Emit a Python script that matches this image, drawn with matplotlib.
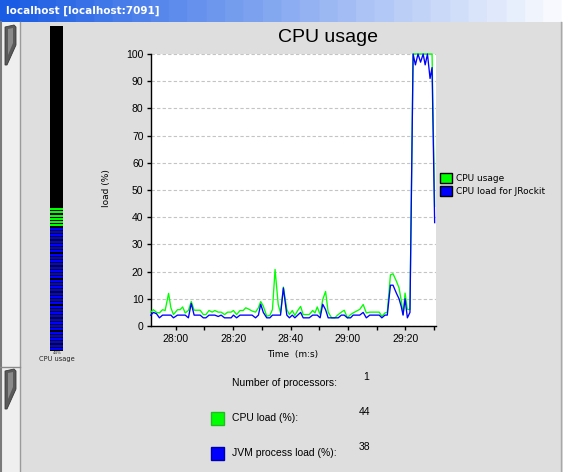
import matplotlib
matplotlib.use("Agg")
import matplotlib.pyplot as plt
import numpy as np
from matplotlib.patches import Rectangle, Polygon, Patch
from matplotlib.ticker import MultipleLocator, FuncFormatter
from matplotlib.colors import LinearSegmentedColormap

# seconds relative to 28:00
BASE = 28 * 60
times = [-8.7, -7.8, -6.7, -5.7, -4.6, -3.7, -2.5, -1.7, -0.8, 0.6,
         1.5, 2.4, 3.3, 4.4, 5.4, 6.4, 7.6, 8.5, 9.6, 10.5,
         11.6, 12.7, 13.6, 14.8, 15.8, 17.0, 18.1, 19.3, 20.1, 21.2,
         22.4, 23.5, 24.4, 25.6, 26.6, 27.8, 28.8, 29.6, 30.5, 31.7,
         32.8, 33.7, 34.6, 35.7, 36.5, 37.5, 38.7, 39.6, 40.6, 41.5,
         42.5, 43.5, 44.4, 45.6, 46.5, 47.7, 48.5, 49.3, 50.3, 51.2,
         52.2, 53.1, 54.3, 55.4, 56.6, 57.7, 58.7, 59.8, 60.9, 61.8,
         63.0, 64.1, 65.3, 66.4, 67.6, 68.7, 70.0, 70.9, 71.8, 72.9,
         73.7, 74.8, 75.7, 76.9, 77.8, 78.6, 79.2, 79.9, 80.7, 81.6,
         82.7, 83.5, 84.4, 85.3, 86.2, 86.9, 87.7, 88.6, 89.3, 90.2]
cpu_usage = [5.1, 6, 5, 4.8, 6, 5.7, 12, 6.7, 4.2, 6,
             6, 7, 4.8, 5.7, 9, 5.8, 5.8, 5.8, 4.2, 4.2,
             5.7, 5.1, 5.7, 5.1, 5.1, 4.2, 5.1, 5.1, 5.7, 4.2,
             5.7, 5.7, 6.7, 6.1, 5.5, 5.1, 6.7, 9, 7.3, 3.6,
             3.9, 6.1, 20.8, 7.9, 4.8, 14.3, 6.1, 4.2, 5.7, 3.9,
             5.7, 7.2, 4.2, 4.2, 4.2, 5.7, 4.8, 7, 4.2, 9.7,
             12.7, 5.1, 3, 3, 4.2, 5.1, 5.8, 3, 4.2, 4.8,
             5.5, 6.1, 7.9, 4.8, 5.1, 5.1, 5.1, 5.1, 3.6, 4.8,
             5.1, 18.8, 19.2, 16.4, 14, 9.1, 4.2, 12.1, 6.1, 6.1,
             100, 100, 100, 100, 100, 100, 100, 100, 100, 44]
jvm_load = [4, 5, 4.5, 3, 4, 4, 4, 4, 3, 4,
            4, 4, 4, 3, 8.3, 4, 4, 4, 3, 3,
            4, 4, 4, 3.5, 4, 3, 3, 3, 4, 3,
            4, 4, 4, 4, 4, 3, 4, 8, 5, 3,
            3, 4, 4, 4, 4, 14, 4, 3, 4, 3,
            4, 5, 3, 3, 3, 4, 4, 4, 3, 8,
            6, 3, 3, 3, 3, 4, 4, 3, 3, 4,
            4, 4, 5, 3, 4, 4, 4, 4, 3, 4,
            4, 15, 15, 12, 10, 7, 4, 10, 3, 5,
            100, 96, 100, 97, 100, 96, 100, 91, 95, 38]
n_processors = 1
legend_labels = ["CPU usage", "CPU load for JRockit"]

GREEN = "#00ff00"
BLUE = "#0000ff"
BG = "#dedede"
W, H = 563, 472


def fx(px):
    return px / W


def fy(py):
    return 1 - py / H


fig = plt.figure(figsize=(5.63, 4.72), dpi=100, facecolor=BG)

# window chrome drawn in pixel coordinates
bg = fig.add_axes([0, 0, 1, 1])
bg.set_xlim(0, W)
bg.set_ylim(H, 0)
bg.axis("off")

grad = np.floor(np.linspace(0, 1, 400) * 30) / 30
cmap = LinearSegmentedColormap.from_list("bar", ["#1a5ce4", "#ffffff"])
bg.imshow(grad[None, :], cmap=cmap, extent=(0, W, 22, 0), aspect="auto",
          vmin=0, vmax=1)
bg.text(6, 11, "localhost [localhost:7091]", color="white", fontsize=7.5,
        fontweight="bold", family="DejaVu Sans", va="center", ha="left")

bg.add_patch(Rectangle((0, 22), 20, H - 22, facecolor="#efefef",
                       edgecolor="none"))
bg.plot([1, 1], [22, H], color="#7a7a7a", lw=1.5)
bg.plot([19.5, 19.5], [22, H], color="#9a9a9a", lw=1)
bg.plot([0, 20], [366.5, 366.5], color="#8a8a8a", lw=1)
bg.plot([561, 561], [22, H], color="#a8a8a8", lw=1)
for top in (25, 369):
    bg.add_patch(Polygon([(5, top + 2), (14, top), (16, top + 2), (16, top + 20),
                          (7, top + 40), (5, top + 40)],
                         facecolor="#5a5a5a", edgecolor="#3a3a3a", lw=0.6))
    bg.add_patch(Polygon([(8, top + 4), (13, top + 3), (13, top + 18),
                          (8, top + 30)],
                         facecolor="#8a8a8a", edgecolor="none"))

# gauge
cur_cpu = cpu_usage[-1]
cur_jvm = jvm_load[-1]
gax = fig.add_axes([fx(50), fy(351), fx(13), 325 / H])
gax.set_facecolor("black")
gax.set_xlim(-0.5, 0.5)
gax.set_ylim(0, 100)
gax.set_xticks([])
gax.set_yticks([])
for s in gax.spines.values():
    s.set_visible(False)
for i in range(int(round(cur_cpu))):
    gax.bar(0, 0.62, bottom=i + 0.38, width=1, antialiased=False,
            color=BLUE if i < cur_jvm else GREEN)
bg.text(57, 353.5, f"{cur_cpu:.0f}%", fontsize=3, ha="center", va="center",
        color="#333333")
bg.text(57, 359.5, "CPU usage", fontsize=4.8, ha="center", va="center",
        color="#222222", family="DejaVu Sans")

# main chart
ax = fig.add_axes([fx(150.5), fy(326), (435.5 - 150.5) / W, (326 - 54) / H])
ax.set_facecolor("white")
ax.plot(times, cpu_usage, color=GREEN, lw=0.95, clip_on=False, zorder=3)
ax.plot(times, jvm_load, color=BLUE, lw=0.95, clip_on=False, zorder=4)
ax.set_xlim(-8.8, 90.5)
ax.set_ylim(0, 100)
ax.yaxis.set_major_locator(MultipleLocator(10))
ax.xaxis.set_major_locator(MultipleLocator(20))
ax.xaxis.set_minor_locator(MultipleLocator(10))


def mmss(v, pos):
    t = int(round(BASE + v))
    return f"{t // 60}:{t % 60:02d}"


ax.xaxis.set_major_formatter(FuncFormatter(mmss))
ax.grid(axis="y", color="#c4c4c4", lw=0.8, linestyle=(0, (3, 2)))
ax.set_axisbelow(True)
for side in ("top", "right"):
    ax.spines[side].set_visible(False)
for side in ("left", "bottom"):
    ax.spines[side].set_linewidth(1)
ax.tick_params(axis="both", which="both", direction="out", length=3,
               width=1, labelsize=7.5, pad=2)
ax.tick_params(axis="x", which="both", pad=3)
for lbl in ax.get_xticklabels() + ax.get_yticklabels():
    lbl.set_family("Liberation Sans")

fig.text(fx(327.5), fy(38), "CPU usage", fontsize=14, ha="center",
         va="center", family="Liberation Sans")
fig.text(fx(106), fy(188), "load (%)", fontsize=6.5, rotation=90,
         ha="center", va="center", family="DejaVu Sans")
fig.text(fx(292.5), fy(355), "Time  (m:s)", fontsize=6.5, ha="center",
         va="center", family="DejaVu Sans")

handles = [Patch(facecolor=GREEN, edgecolor="black", lw=1),
           Patch(facecolor=BLUE, edgecolor="black", lw=1)]
ax.legend(handles, legend_labels, loc="upper left",
          bbox_to_anchor=(fx(439.5), fy(173)), bbox_transform=fig.transFigure,
          frameon=False, handlelength=1.35, handleheight=1.35,
          handletextpad=0.45, labelspacing=0.3, borderpad=0, borderaxespad=0,
          prop={"family": "DejaVu Sans", "size": 6.5})

# info panel
info_font = dict(fontsize=7.5, family="Liberation Sans", va="center")
bg.text(232, 383, "Number of processors:", ha="left", **info_font)
bg.text(369, 377, f"{n_processors}", ha="right", **info_font)
bg.add_patch(Rectangle((210.5, 411.5), 13, 13, facecolor=GREEN,
                       edgecolor="#22bb22", lw=1))
bg.text(232, 418, "CPU load (%):", ha="left", **info_font)
bg.text(370, 412, f"{cur_cpu:.0f}", ha="right", **info_font)
bg.add_patch(Rectangle((210.5, 446.5), 13, 13, facecolor=BLUE,
                       edgecolor="#0000aa", lw=1))
bg.text(232, 453, "JVM process load (%):", ha="left", **info_font)
bg.text(370, 447, f"{cur_jvm:.0f}", ha="right", **info_font)

fig.savefig("out.png", dpi=100, facecolor=BG)
